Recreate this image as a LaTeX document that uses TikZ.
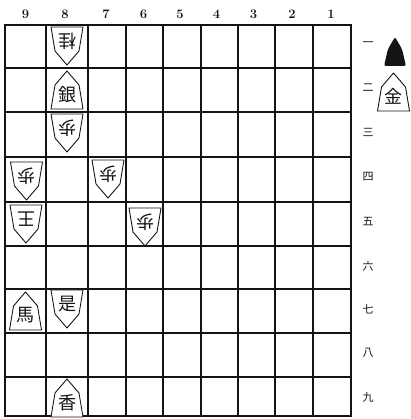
\documentclass[tikz,border=0pt]{standalone}
\usepackage{fontspec}
\newfontfamily\jp{Noto Sans CJK JP}
\definecolor{ink}{HTML}{141414}
% piece: name, centre, angle (0 = sente, 180 = gote), glyph
\newcommand\koma[4]{%
  \begin{scope}[shift={#2},rotate=#3]
    \draw[komaline] (0,19)--(12,5)--(16,-19)--(-16,-19)--(-12,5)--cycle;
    \node[komatext,rotate=#3] (#1) at (0,-4.5) {#4};
  \end{scope}}

\begin{document}
\begin{tikzpicture}[x=1pt,y=1pt,
  gridline/.style={ink,line width=1.1pt},
  komaline/.style={ink,line width=0.9pt,fill=white,line join=round},
  komatext/.style={text=ink,font=\jp\fontsize{18}{18}\selectfont,inner sep=0pt},
  colnum/.style={text=ink,font=\bfseries\fontsize{13}{13}\selectfont},
  rownum/.style={text=ink,font=\jp\fontsize{11}{11}\selectfont}]
  \useasboundingbox (0,0) rectangle (410,419);
  % board
  \foreach \x in {46,88,126,163,201,238,275,313}{\draw[gridline] (\x,3)--(\x,394);}
  \foreach \y in {351,307,262,217,173,130,86,42}{\draw[gridline] (5,\y)--(351,\y);}
  \draw[ink,line width=1.6pt] (5,3) rectangle (351,394);
  % coordinates
  \foreach \n/\x in {9/25.5,8/65,7/106,6/143.5,5/180,4/216.5,3/253.5,2/292,1/331}{\node[colnum] (c\n) at (\x,405){\n};}
  \foreach \n/\k/\y in {1/一/375,2/二/331,3/三/287,4/四/242,5/五/197,6/六/153,7/七/110,8/八/66,9/九/22}{\node[rownum] (r\n) at (368,\y){\k};}
  % pieces
  \koma{k81}{(67,373)}{180}{桂}
  \koma{k82}{(67,329)}{0}{銀}
  \koma{k83}{(67,286)}{180}{歩}
  \koma{k94}{(26.5,238)}{180}{歩}
  \koma{k74}{(108,240)}{180}{歩}
  \koma{k95}{(26,195)}{180}{王}
  \koma{k65}{(145,192)}{180}{歩}
  \koma{k97}{(25.5,108)}{0}{馬}
  \koma{k87}{(67,110)}{180}{\rotatebox{180}{是}}
  \koma{k89}{(67,21)}{0}{香}
  % in hand
  \fill[ink,rounded corners=2pt] (384,353)--(388,370)--(395,382)--(402,370)--(406,353)--cycle;
  \koma{hand}{(393.5,327)}{0}{金}
\end{tikzpicture}
\end{document}
